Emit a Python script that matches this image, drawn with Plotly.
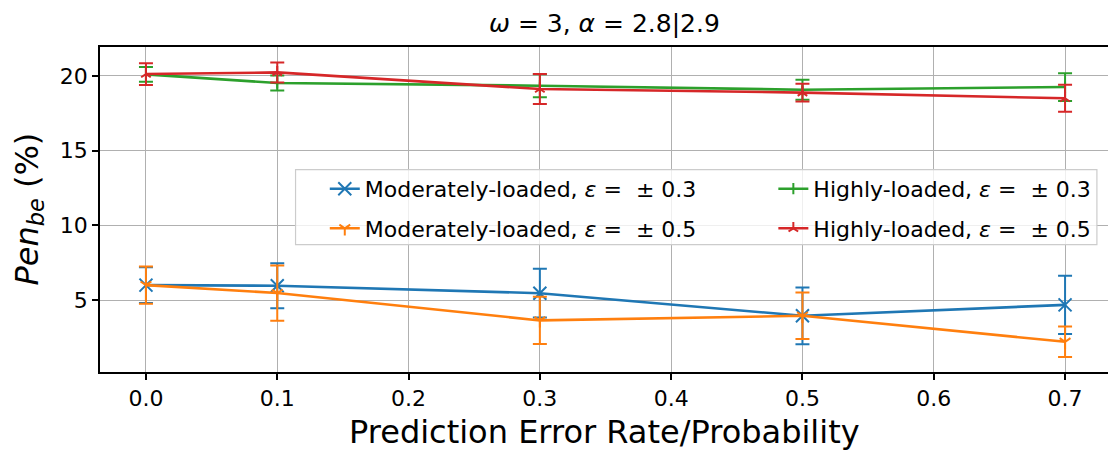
import plotly.graph_objects as go

# Prediction error rate / probability
error_rate = [0.0, 0.1, 0.3, 0.5, 0.7]

# Penalty (%) with standard deviation, per load level and epsilon
mod_03 = [6.0, 5.96, 5.46, 3.95, 4.68]
mod_03_err = [1.2, 1.5, 1.63, 1.9, 1.95]
mod_05 = [6.0, 5.47, 3.64, 3.95, 2.21]
mod_05_err = [1.25, 1.85, 1.58, 1.56, 1.02]
high_03 = [20.1, 19.52, 19.34, 19.07, 19.25]
high_03_err = [0.5, 0.5, 0.77, 0.67, 0.93]
high_05 = [20.12, 20.23, 19.12, 18.88, 18.5]
high_05_err = [0.73, 0.67, 1.0, 0.59, 0.9]

labels = [
    "Moderately-loaded, <i>ε</i> =  ± 0.3",
    "Moderately-loaded, <i>ε</i> =  ± 0.5",
    "Highly-loaded, <i>ε</i> =  ± 0.3",
    "Highly-loaded, <i>ε</i> =  ± 0.5",
]
x_ticks = [0.0, 0.1, 0.2, 0.3, 0.4, 0.5, 0.6, 0.7]
y_ticks = [5, 10, 15, 20]

FONT = "DejaVu Sans"

# (values, errors, label, colour, marker, marker size, legend column)
series = [
    (mod_03, mod_03_err, labels[0], "#1f77b4", "x-thin", 13, "legend"),
    (mod_05, mod_05_err, labels[1], "#ff7f0e", "y-down", 9, "legend"),
    (high_03, high_03_err, labels[2], "#2ca02c", "line-ns", 8, "legend2"),
    (high_05, high_05_err, labels[3], "#d62728", "y-up", 8, "legend2"),
]

fig = go.Figure()
for i, (ys, errs, name, color, symbol, msize, leg) in enumerate(series):
    fig.add_trace(go.Scatter(
        x=error_rate, y=ys, name=name, mode="lines+markers",
        line=dict(color=color, width=2.6),
        marker=dict(symbol=symbol, size=msize, color=color,
                    line=dict(color=color, width=2)),
        error_y=dict(type="data", array=errs, visible=True,
                     color=color, thickness=2, width=7),
        legend=leg, legendgroup=f"g{i}",
    ))

legend_common = dict(
    orientation="v", yanchor="top", xanchor="left",
    bgcolor="rgba(0,0,0,0)", borderwidth=0,
    font=dict(family=FONT, size=22, color="black"),
    traceorder="grouped", tracegroupgap=8,
)

fig.update_layout(
    width=1108, height=450,
    margin=dict(l=100, r=0, t=47, b=78),
    plot_bgcolor="white", paper_bgcolor="white",
    font=dict(family=FONT, size=22, color="black"),
    showlegend=True,
    legend=dict(x=0.223, y=0.628, **legend_common),
    legend2=dict(x=0.668, y=0.628, **legend_common),
    shapes=[
        # legend frame
        dict(type="rect", xref="paper", yref="paper",
             x0=0.194, x1=0.989, y0=0.392, y1=0.6225, layer="above",
             fillcolor="rgba(255,255,255,0.8)",
             line=dict(color="#cccccc", width=1.2)),
    ],
    annotations=[
        dict(text="<i>ω</i> = 3, <i>α</i> = 2.8|2.9", xref="paper", yref="paper",
             x=0.5, y=1, yshift=24, showarrow=False,
             font=dict(family=FONT, size=25), xanchor="center", yanchor="middle"),
        dict(text="Prediction Error Rate/Probability", xref="paper", yref="paper",
             x=0.5, y=0, yshift=-60, showarrow=False,
             font=dict(family=FONT, size=32), xanchor="center", yanchor="middle"),
        dict(text="<i>Pen</i><sub><i>be</i></sub> (%)", xref="paper", yref="paper",
             x=0, xshift=-72, y=0.5, showarrow=False, textangle=-90,
             font=dict(family=FONT, size=32), xanchor="center", yanchor="middle"),
    ],
)

fig.update_xaxes(
    range=[-0.035, 0.7327], tickvals=x_ticks,
    ticktext=[f"{v:.1f}" for v in x_ticks],
    showgrid=True, gridcolor="#b0b0b0", gridwidth=1.4,
    showline=True, linecolor="black", linewidth=1.5, mirror=True,
    ticks="outside", ticklen=6, tickwidth=1.5, tickcolor="black",
    zeroline=False, tickfont=dict(family=FONT, size=22),
)
fig.update_yaxes(
    range=[0.19, 21.93], tickvals=y_ticks,
    showgrid=True, gridcolor="#b0b0b0", gridwidth=1.4,
    showline=True, linecolor="black", linewidth=1.5, mirror=False,
    ticks="outside", ticklen=6, tickwidth=1.5, tickcolor="black",
    zeroline=False, tickfont=dict(family=FONT, size=22),
)

fig.write_html("out.html")
